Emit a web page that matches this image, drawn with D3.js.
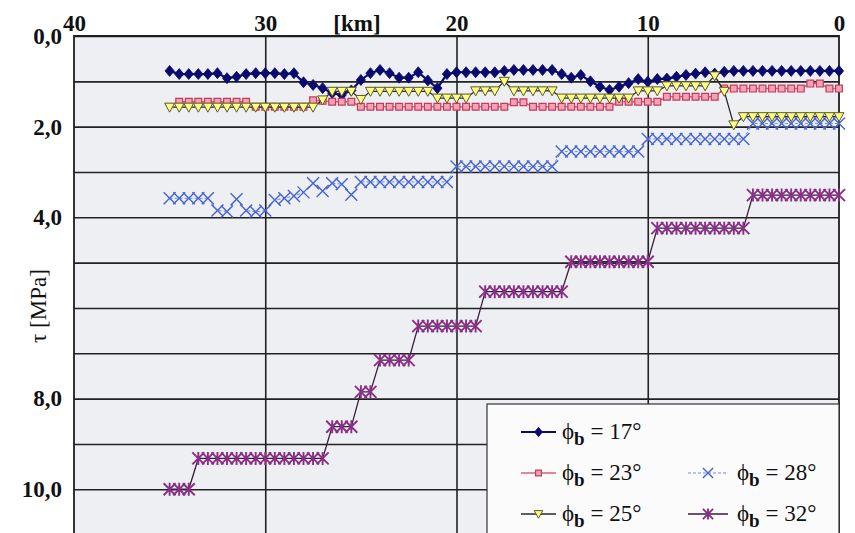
<!DOCTYPE html>
<html>
<head>
<meta charset="utf-8">
<script src="https://cdn.jsdelivr.net/npm/d3@7"></script>
<style>
  html, body { margin: 0; padding: 0; background: #fff; }
  svg { display: block; }
</style>
</head>
<body>
<svg id="chart" width="855" height="533"></svg>
<script>
// Distance along the section [km], one reading every 0.5 km
const km = [35,34.5,34,33.5,33,32.5,32,31.5,31,30.5,
            30,29.5,29,28.5,28,27.5,27,26.5,26,25.5,
            25,24.5,24,23.5,23,22.5,22,21.5,21,20.5,
            20,19.5,19,18.5,18,17.5,17,16.5,16,15.5,
            15,14.5,14,13.5,13,12.5,12,11.5,11,10.5,
            10,9.5,9,8.5,8,7.5,7,6.5,6,5.5,
            5,4.5,4,3.5,3,2.5,2,1.5,1,0.5,0];

// Shear stress tau [MPa] for each basic friction angle phi_b
const tau17 = [0.77,0.84,0.84,0.84,0.84,0.82,0.93,0.90,0.84,0.82,
               0.82,0.82,0.84,0.82,1.02,1.08,1.15,1.26,1.30,1.20,
               0.97,0.82,0.75,0.82,0.92,0.92,0.80,0.98,1.15,0.84,
               0.80,0.80,0.80,0.80,0.80,0.77,0.75,0.75,0.75,0.75,
               0.75,0.84,0.92,0.86,1.00,1.12,1.19,1.12,1.04,0.95,
               1.01,0.95,0.94,0.90,0.86,0.83,0.80,0.83,0.79,0.77,
               0.77,0.77,0.77,0.77,0.77,0.77,0.77,0.77,0.77,0.77,0.77];
const tau23 = [null,1.45,1.45,1.45,1.45,1.45,1.45,1.45,1.45,1.56,
               1.56,1.56,1.56,1.56,1.56,1.42,1.43,1.45,1.45,1.45,
               1.56,1.56,1.56,1.56,1.56,1.56,1.56,1.56,1.56,1.56,
               1.56,1.56,1.56,1.56,1.56,1.56,1.46,1.46,1.56,1.56,
               1.56,1.56,1.56,1.56,1.56,1.56,1.56,1.45,1.45,1.45,
               1.45,1.45,1.34,1.34,1.34,1.34,1.34,1.34,1.16,1.16,
               1.16,1.16,1.16,1.16,1.16,1.16,1.16,1.05,1.05,1.16,1.16];
const tau25 = [1.57,1.57,1.57,1.57,1.57,1.57,1.57,1.57,1.57,1.57,
               1.57,1.57,1.57,1.57,1.57,1.57,1.41,1.22,1.22,1.22,
               1.40,1.22,1.22,1.22,1.22,1.22,1.22,1.22,1.37,1.37,
               1.37,1.37,1.21,1.21,1.21,1.00,1.21,1.21,1.21,1.21,
               1.21,1.37,1.37,1.37,1.37,1.37,1.37,1.37,1.37,1.21,
               1.21,1.21,1.10,1.10,1.10,1.10,1.10,0.88,1.22,1.96,
               1.78,1.78,1.78,1.78,1.78,1.78,1.78,1.78,1.78,1.78,1.78];
const tau28 = [3.58,3.58,3.58,3.58,3.58,3.85,3.87,3.60,3.85,3.88,
               3.85,3.62,3.58,3.53,3.45,3.25,3.42,3.25,3.27,3.50,
               3.22,3.22,3.22,3.22,3.22,3.22,3.22,3.22,3.22,3.22,
               2.88,2.88,2.88,2.88,2.88,2.88,2.88,2.88,2.88,2.88,
               2.88,2.55,2.55,2.55,2.55,2.55,2.55,2.55,2.55,2.55,
               2.27,2.27,2.27,2.27,2.27,2.27,2.27,2.27,2.27,2.27,
               2.27,1.93,1.93,1.93,1.93,1.93,1.93,1.93,1.93,1.93,1.93];
const tau32 = [10.0,10.0,10.0,9.32,9.32,9.32,9.32,9.32,9.32,9.32,
               9.32,9.32,9.32,9.32,9.32,9.32,9.32,8.62,8.62,8.62,
               7.85,7.85,7.15,7.15,7.15,7.15,6.40,6.40,6.40,6.40,
               6.40,6.40,6.40,5.64,5.64,5.64,5.64,5.64,5.64,5.64,
               5.64,5.64,4.98,4.98,4.98,4.98,4.98,4.98,4.98,4.98,
               4.98,4.24,4.24,4.24,4.24,4.24,4.24,4.24,4.24,4.24,
               4.24,3.51,3.51,3.51,3.51,3.51,3.51,3.51,3.51,3.51,3.51];

const seriesAngles = ["17°", "23°", "25°", "28°", "32°"];
const xTicks = [40, 30, 20, 10, 0];
const yGrid = [0,1,2,3,4,5,6,7,8,9,10];
const yLabels = [0, 2, 4, 8, 10];

const svg = d3.select("#chart");
const FONT = "'Liberation Serif', 'Times New Roman', Times, serif";

const x = d3.scaleLinear().domain([40, 0]).range([74, 839]);
const y = d3.scaleLinear().domain([0, 11]).range([36, 534.6]);

// plot area
svg.append("rect")
  .attr("x", x(40)).attr("y", y(0))
  .attr("width", x(0) - x(40)).attr("height", y(11) - y(0))
  .attr("fill", "#edeff2");

// grid lines
svg.append("g")
  .attr("transform", `translate(${x(40)},0)`)
  .call(d3.axisLeft(y).tickValues(yGrid).tickSize(-(x(0) - x(40))).tickFormat(""))
  .call(g => g.select(".domain").remove())
  .call(g => g.selectAll("line").attr("stroke", "#222").attr("stroke-width", 1.6));
svg.append("g")
  .attr("transform", `translate(0,${y(0)})`)
  .call(d3.axisTop(x).tickValues([30, 20, 10]).tickSize(-(y(11) - y(0))).tickFormat(""))
  .call(g => g.select(".domain").remove())
  .call(g => g.selectAll("line").attr("stroke", "#222").attr("stroke-width", 1.6));

// frame
svg.append("path")
  .attr("d", `M${x(40)},${y(11)}V${y(0)}H${x(0)}V${y(11)}`)
  .attr("fill", "none").attr("stroke", "#1e1e1e").attr("stroke-width", 1.8);

// axis labels
const xAxis = svg.append("g")
  .attr("transform", `translate(0,${y(0)})`)
  .call(d3.axisTop(x).tickValues(xTicks).tickSize(0).tickPadding(5).tickFormat(d3.format("d")));
xAxis.select(".domain").remove();
xAxis.selectAll("text").attr("font-family", FONT).attr("font-size", 23)
  .attr("font-weight", "bold").attr("fill", "#111");

const yAxis = svg.append("g")
  .attr("transform", `translate(${x(40)},0)`)
  .call(d3.axisLeft(y).tickValues(yLabels).tickSize(0).tickPadding(12)
    .tickFormat(d => d3.format(".1f")(d).replace(".", ",")));
yAxis.select(".domain").remove();
yAxis.selectAll("text").attr("font-family", FONT).attr("font-size", 23)
  .attr("font-weight", "bold").attr("fill", "#111");

svg.append("text").text("[km]")
  .attr("x", 357).attr("y", 31).attr("text-anchor", "middle")
  .attr("font-family", FONT).attr("font-size", 23).attr("font-weight", "bold").attr("fill", "#111");

svg.append("text").text("τ [MPa]")
  .attr("transform", "translate(46,306) rotate(-90)")
  .attr("text-anchor", "middle")
  .attr("font-family", FONT).attr("font-size", 23).attr("fill", "#111");

// marker shapes
const markers = {
  diamond: (s) => `M0,${-5.5*s}L${4.6*s},0L0,${5.5*s}L${-4.6*s},0Z`,
  square: (s) => `M${-3.4*s},${-3.4*s}h${6.8*s}v${6.8*s}h${-6.8*s}Z`,
  triangle: (s) => `M${-5*s},${-4*s}L${5*s},${-4*s}L0,${5*s}Z`,
  cross: (s) => `M${-6*s},${-6*s}L${6*s},${6*s}M${6*s},${-6*s}L${-6*s},${6*s}`,
  star: (s) => `M${-6*s},${-6*s}L${6*s},${6*s}M${6*s},${-6*s}L${-6*s},${6*s}M0,${-6.5*s}V${6.5*s}`
};

const series = [
  { values: tau17, line: "#0a0a6e", lw: 2.2, dash: null, marker: "diamond", fill: "#0a0a6e", stroke: "#0a0a6e", msw: 0.8 },
  { values: tau23, line: "#d9607c", lw: 1.5, dash: null, marker: "square", fill: "#f3a3b5", stroke: "#c73a5c", msw: 1.2 },
  { values: tau25, line: "#2a2a2a", lw: 1.3, dash: null, marker: "triangle", fill: "#ffff8a", stroke: "#5b5b1e", msw: 1 },
  { values: tau28, line: "#6d8be0", lw: 1, dash: "3,2", marker: "cross", fill: "none", stroke: "#4563d4", msw: 1.4 },
  { values: tau32, line: "#3a1d3e", lw: 1.3, dash: null, marker: "star", fill: "none", stroke: "#8a2f86", msw: 1.9 }
];

const lineGen = (vals) => d3.line()
  .defined((d, i) => vals[i] !== null)
  .x((d, i) => x(km[i]))
  .y((d, i) => y(vals[i]));

const plot = svg.append("g");
series.forEach(s => {
  const g = plot.append("g");
  g.append("path")
    .attr("d", lineGen(s.values)(s.values))
    .attr("fill", "none").attr("stroke", s.line).attr("stroke-width", s.lw)
    .attr("stroke-dasharray", s.dash);
  g.selectAll("path.m")
    .data(s.values.map((v, i) => ({ k: km[i], v })).filter(d => d.v !== null))
    .join("path").attr("class", "m")
    .attr("transform", d => `translate(${x(d.k)},${y(d.v)})`)
    .attr("d", markers[s.marker](1))
    .attr("fill", s.fill).attr("stroke", s.stroke).attr("stroke-width", s.msw);
});

// legend
const lg = svg.append("g");
lg.append("rect").attr("x", 487).attr("y", 404).attr("width", 352).attr("height", 140)
  .attr("fill", "#fbfbfb").attr("stroke", "#333").attr("stroke-width", 1.2);

const legendPos = [
  { x0: 521, x1: 556, cy: 432, tx: 562 },
  { x0: 521, x1: 556, cy: 473, tx: 562 },
  { x0: 521, x1: 556, cy: 514, tx: 562 },
  { x0: 688, x1: 728, cy: 473, tx: 737 },
  { x0: 688, x1: 728, cy: 514, tx: 737 }
];
series.forEach((s, i) => {
  const p = legendPos[i];
  const g = lg.append("g");
  g.append("line").attr("x1", p.x0).attr("x2", p.x1).attr("y1", p.cy).attr("y2", p.cy)
    .attr("stroke", s.line).attr("stroke-width", s.lw).attr("stroke-dasharray", s.dash);
  g.append("path").attr("transform", `translate(${(p.x0 + p.x1) / 2},${p.cy})`)
    .attr("d", markers[s.marker](0.85))
    .attr("fill", s.fill).attr("stroke", s.stroke).attr("stroke-width", s.msw);
  const t = g.append("text").attr("x", p.tx).attr("y", p.cy + 7)
    .attr("font-family", FONT).attr("font-size", 23).attr("fill", "#111");
  t.append("tspan").text("ϕ");
  t.append("tspan").text("b").attr("dy", 6).attr("font-size", 19).attr("font-weight", "bold");
  t.append("tspan").text(" = " + seriesAngles[i]).attr("dy", -6);
});
</script>
</body>
</html>
